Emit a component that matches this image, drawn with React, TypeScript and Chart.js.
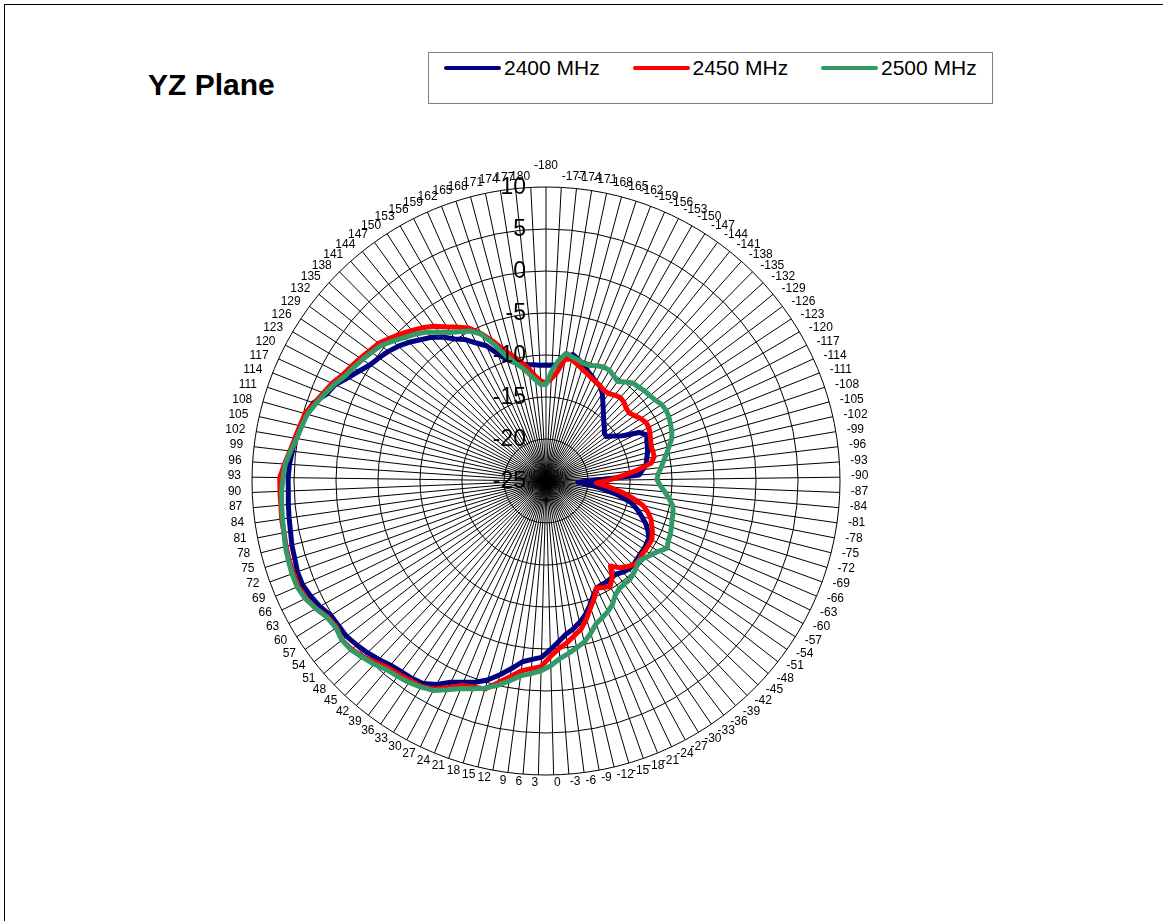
import React, { useEffect, useRef } from "react";
import { Chart, registerables } from "chart.js";

Chart.register(...registerables);

// Category angles (degrees), first one at the top, clockwise
const angles: number[] = [
  -180, -177, -174, -171, -168, -165, -162, -159, -156, -153, -150, -147, -144, -141, -138, -135,
  -132, -129, -126, -123, -120, -117, -114, -111, -108, -105, -102, -99, -96, -93, -90, -87, -84,
  -81, -78, -75, -72, -69, -66, -63, -60, -57, -54, -51, -48, -45, -42, -39, -36, -33, -30, -27,
  -24, -21, -18, -15, -12, -9, -6, -3, 0, 3, 6, 9, 12, 15, 18, 21, 24, 27, 30, 33, 36, 39, 42, 45,
  48, 51, 54, 57, 60, 63, 66, 69, 72, 75, 78, 81, 84, 87, 90, 93, 96, 99, 102, 105, 108, 111, 114,
  117, 120, 123, 126, 129, 132, 135, 138, 141, 144, 147, 150, 153, 156, 159, 162, 165, 168, 171,
  174, 177, 180,
];

const radialTicks: number[] = [-25, -20, -15, -10, -5, 0, 5, 10];

const seriesNames: string[] = ["2400 MHz", "2450 MHz", "2500 MHz"];

const s2400: number[] = [
  -11.2, -11.2, -11.1, -10.2, -9.6, -10.0, -10.5, -11.0, -11.4, -11.8,
  -12.0, -12.6, -13.4, -14.1, -14.7, -15.2, -15.6, -16.0, -16.1, -15.3,
  -14.4, -12.5, -11.8, -12.1, -12.25, -12.45, -12.7, -12.9, -13.4, -13.9,
  -19.0, -21.2, -19.5, -18.0, -16.2, -14.6, -13.7, -12.9, -12.1, -11.5,
  -11.0, -10.9, -10.8, -10.8, -10.7, -10.6, -10.6, -10.8, -11.1, -11.1,
  -11.0, -11.0, -10.9, -10.2, -9.3, -8.4, -7.7, -7.1, -6.6, -5.8,
  -4.9, -4.0, -3.7, -3.3, -2.3, -1.3, -0.3, 0.4, 0.9, 1.5,
  2.5, 3.2, 3.4, 3.5, 3.7, 4.1, 4.5, 4.8, 5.1, 5.1,
  5.2, 5.8, 6.2, 6.5, 6.5, 6.3, 6.2, 6.0, 5.9, 5.8,
  5.7, 5.7, 5.6, 5.4, 5.3, 5.0, 4.7, 4.2, 3.1, 2.6,
  1.6, 0.8, 0.1, -0.3, -0.7, -1.2, -1.8, -2.5, -3.1, -3.9,
  -4.9, -5.6, -6.6, -7.4, -8.8, -9.8, -10.4, -10.8, -11.0, -11.1,
  -11.2,
];

const s2450: number[] = [
  -13.3, -12.8, -11.9, -10.3, -10.2, -10.6, -11.0, -11.3, -11.6, -11.8,
  -12.0, -12.2, -12.2, -11.9, -11.7, -11.8, -12.1, -12.2, -11.9, -11.5,
  -11.2, -11.2, -11.4, -11.6, -11.8, -11.8, -11.8, -12.3, -14.1, -16.0,
  -17.5, -19.0, -17.6, -16.0, -14.5, -13.1, -12.3, -11.7, -11.3, -10.9,
  -10.6, -10.6, -10.6, -10.6, -10.4, -10.6, -11.0, -11.5, -12.3, -11.0,
  -10.3, -10.6, -10.9, -9.9, -9.0, -7.9, -6.9, -6.3, -5.6, -5.0,
  -4.1, -2.9, -2.6, -2.2, -1.3, -0.3, 0.8, 1.0, 1.3, 2.2,
  3.1, 3.6, 3.7, 3.9, 4.1, 4.6, 5.2, 5.6, 5.8, 5.4,
  5.6, 6.3, 6.8, 7.05, 7.0, 7.0, 6.9, 6.8, 6.8, 6.7,
  6.7, 6.7, 6.2, 5.7, 5.3, 5.0, 4.8, 4.1, 3.5, 3.0,
  2.3, 1.9, 1.5, 1.1, 0.8, 0.2, -0.4, -1.0, -1.6, -2.3,
  -3.2, -3.9, -4.6, -5.8, -7.2, -8.6, -9.6, -10.5, -11.4, -12.4,
  -13.1,
];

const s2500: number[] = [
  -13.5, -11.9, -10.6, -9.6, -9.9, -10.1, -10.3, -10.3, -10.0, -9.8,
  -9.8, -10.1, -10.4, -9.9, -9.4, -9.3, -9.1, -9.0, -8.8, -8.5,
  -8.4, -8.5, -8.7, -8.9, -9.2, -9.8, -10.3, -10.8, -11.2, -11.6,
  -11.8, -11.4, -10.8, -10.2, -9.6, -9.4, -9.3, -9.1, -8.9, -8.8,
  -8.5, -9.2, -9.7, -10.1, -10.4, -10.1, -9.8, -9.6, -9.6, -9.5,
  -9.1, -8.3, -7.8, -7.4, -7.0, -6.1, -5.3, -4.8, -4.3, -3.8,
  -3.0, -2.4, -2.0, -1.6, -0.8, 0.0, 0.7, 1.2, 1.7, 2.5,
  3.3, 3.7, 4.0, 4.2, 4.4, 4.9, 5.3, 5.7, 5.8, 5.5,
  5.7, 6.3, 6.9, 7.2, 7.2, 7.1, 7.0, 6.8, 6.7, 6.6,
  6.5, 6.3, 6.1, 5.6, 5.1, 4.8, 4.5, 3.9, 3.3, 2.7,
  2.0, 1.6, 1.2, 0.8, 0.4, -0.3, -1.0, -1.6, -2.3, -3.2,
  -4.0, -4.5, -5.0, -5.9, -7.6, -9.3, -10.4, -11.2, -12.1, -12.9,
  -13.5,
];

const seriesColors: string[] = ["#000080", "#FF0000", "#339966"];

const FONT = '"Liberation Sans", Arial, Helvetica, sans-serif';

// Value-axis labels drawn just left of the vertical axis, centred on each ring
const tickLabelPlugin = {
  id: "yzTickLabels",
  afterDatasetsDraw(chart: any) {
    const s = chart.scales.r;
    const ctx = chart.ctx;
    ctx.save();
    ctx.font = `23px ${FONT}`;
    ctx.fillStyle = "#000";
    ctx.textAlign = "right";
    ctx.textBaseline = "middle";
    for (const v of radialTicks) {
      const d = s.getDistanceFromCenterForValue(v);
      ctx.fillText(String(v), s.xCenter - 20, s.yCenter - d + 1);
    }
    ctx.restore();
  },
};

// Category labels placed around the outer ring (spreadsheet-style placement)
const pointLabelPlugin = {
  id: "yzPointLabels",
  afterDraw(chart: any) {
    const s = chart.scales.r;
    const ctx = chart.ctx;
    const R = s.drawingArea;
    const labels: string[] = chart.data.labels;
    ctx.save();
    ctx.font = `12px ${FONT}`;
    ctx.fillStyle = "#000";
    ctx.textAlign = "center";
    ctx.textBaseline = "middle";
    labels.forEach((lab, i) => {
      const p = s.getPointPosition(i, R);
      const ang = (i * 2 * Math.PI) / labels.length;
      const sn = Math.sin(ang);
      const cs = Math.cos(ang);
      const w = ctx.measureText(lab).width;
      let dx = 0;
      let dy = 0;
      if (Math.abs(sn) < 1e-6) {
        dy = cs > 0 ? -21 : 8;
      } else {
        dx = Math.sign(sn) * (w / 2 + 11 * Math.abs(sn));
        dy = cs >= 0 ? -1.5 - 9.5 * cs * cs : -1.5 - 9.5 * cs;
      }
      ctx.fillText(lab, p.x + dx, p.y + dy);
    });
    ctx.restore();
  },
};

export default function App() {
  const canvasRef = useRef<HTMLCanvasElement | null>(null);

  useEffect(() => {
    document.body.style.margin = "0";
    const canvas = canvasRef.current;
    if (!canvas) return;
    const chart = new Chart(canvas, {
      type: "radar",
      data: {
        labels: angles.map((a) => String(a)),
        datasets: [
          { label: seriesNames[0], data: s2400, borderColor: seriesColors[0], backgroundColor: seriesColors[0], order: 3 },
          { label: seriesNames[1], data: s2450, borderColor: seriesColors[1], backgroundColor: seriesColors[1], order: 2 },
          { label: seriesNames[2], data: s2500, borderColor: seriesColors[2], backgroundColor: seriesColors[2], order: 1 },
        ],
      },
      options: {
        responsive: false,
        maintainAspectRatio: false,
        animation: false,
        layout: { padding: 56 },
        plugins: {
          legend: { display: false },
          tooltip: { enabled: false },
          title: { display: false },
        },
        elements: {
          point: { radius: 0, hoverRadius: 0 },
          line: { tension: 0, borderWidth: 5, fill: false, borderJoinStyle: "round" },
        },
        scales: {
          r: {
            min: -25,
            max: 10,
            startAngle: 0,
            ticks: { stepSize: 5, display: false },
            grid: { circular: true, color: "#000", lineWidth: 1 },
            angleLines: { display: true, color: "#000", lineWidth: 1 },
            pointLabels: { display: false },
          },
        },
      } as any,
      plugins: [tickLabelPlugin, pointLabelPlugin],
    });
    return () => chart.destroy();
  }, []);

  return (
    <div
      style={{
        position: "relative",
        width: 1163,
        height: 921,
        overflow: "hidden",
        background: "#fff",
        fontFamily: FONT,
      }}
    >
      <div
        style={{
          position: "absolute",
          left: 4,
          top: 4,
          width: 1170,
          height: 930,
          borderLeft: "1px solid #000",
          borderTop: "1px solid #000",
        }}
      />
      <div
        style={{
          position: "absolute",
          left: 148,
          top: 68,
          fontSize: 30,
          fontWeight: "bold",
          lineHeight: "34px",
          color: "#000",
          whiteSpace: "nowrap",
        }}
      >
        YZ Plane
      </div>
      <div
        style={{
          position: "absolute",
          left: 428,
          top: 52,
          width: 565,
          height: 52,
          border: "1px solid #7f7f7f",
          boxSizing: "border-box",
        }}
      >
        {seriesNames.map((name, i) => (
          <div
            key={name}
            style={{
              position: "absolute",
              left: 15 + i * 188.5,
              top: 3,
              height: 24,
              display: "flex",
              alignItems: "center",
              whiteSpace: "nowrap",
            }}
          >
            <div
              style={{
                width: 57,
                height: 4,
                borderRadius: 2,
                background: seriesColors[i],
                marginRight: 3,
              }}
            />
            <span style={{ fontSize: 21, lineHeight: "24px", color: "#000" }}>{name}</span>
          </div>
        ))}
      </div>
      <canvas
        ref={canvasRef}
        width={700}
        height={700}
        style={{ position: "absolute", left: 196, top: 131, width: 700, height: 700 }}
      />
    </div>
  );
}
